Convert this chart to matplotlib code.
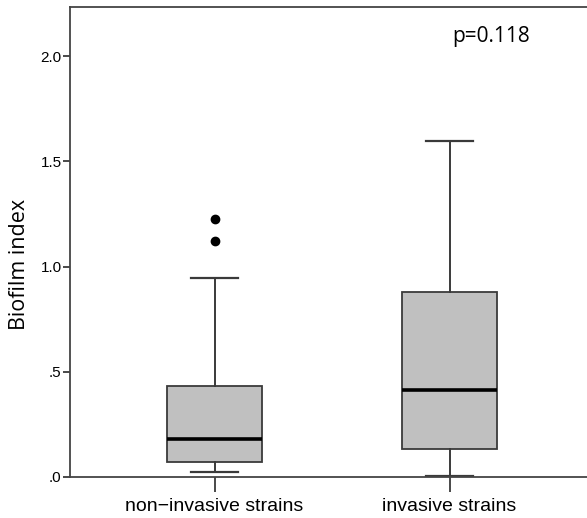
import matplotlib
matplotlib.use('Agg')
import matplotlib.pyplot as plt

# box plot summary values
groups = ['non\u2212invasive strains', 'invasive strains']
whislo = [0.022, 0.005]
q1 = [0.071, 0.133]
med = [0.180, 0.412]
q3 = [0.432, 0.877]
whishi = [0.947, 1.596]
fliers = [[1.121, 1.224], []]

yticks = [0.0, 0.5, 1.0, 1.5, 2.0]
ytick_labels = ['.0', '.5', '1.0', '1.5', '2.0']

stats = []
for i in range(len(groups)):
    stats.append({'whislo': whislo[i], 'q1': q1[i], 'med': med[i], 'q3': q3[i],
                  'whishi': whishi[i], 'fliers': fliers[i], 'label': groups[i]})

fig = plt.figure(figsize=(5.87, 5.18), dpi=100)
ax = fig.add_axes([70 / 587, 41 / 518, 517 / 587, 470 / 518])

edge = '#3a3a3a'
ax.bxp(stats, positions=[1, 2], widths=0.404, capwidths=0.196, patch_artist=True,
       boxprops=dict(facecolor='#c0c0c0', edgecolor=edge, linewidth=1.3),
       medianprops=dict(color='black', linewidth=2.6),
       whiskerprops=dict(color=edge, linewidth=1.4),
       capprops=dict(color=edge, linewidth=1.6),
       flierprops=dict(marker='o', markerfacecolor='black', markeredgecolor='black',
                       markersize=6))

ax.set_xlim(0.385, 2.585)
ax.set_ylim(0, 2.233)

sans = ['Liberation Sans', 'DejaVu Sans']
ax.set_yticks(yticks)
ax.set_yticklabels(ytick_labels, family=sans, fontsize=11)
ax.set_xticks([1, 2])
ax.set_xticklabels(groups, family=sans, fontsize=14)
ax.tick_params(axis='x', length=11, width=1.3, color=edge, pad=4)
ax.tick_params(axis='y', length=5, width=1.3, color=edge, pad=1)

for s in ['left', 'top', 'bottom']:
    ax.spines[s].set_color('#444444')
    ax.spines[s].set_linewidth(1.3)
ax.spines['right'].set_visible(False)

fig.text(20 / 587, (518 - 264) / 518, 'Biofilm index', rotation=90, ha='center',
         va='center', fontsize=15.5, family=['Open Sans', 'DejaVu Sans'])
ax.text(0.814, 0.938, 'p=0.118', transform=ax.transAxes, ha='center', va='center',
        fontsize=15, family=['Open Sans', 'DejaVu Sans'])

fig.savefig('out.png', dpi=100)
